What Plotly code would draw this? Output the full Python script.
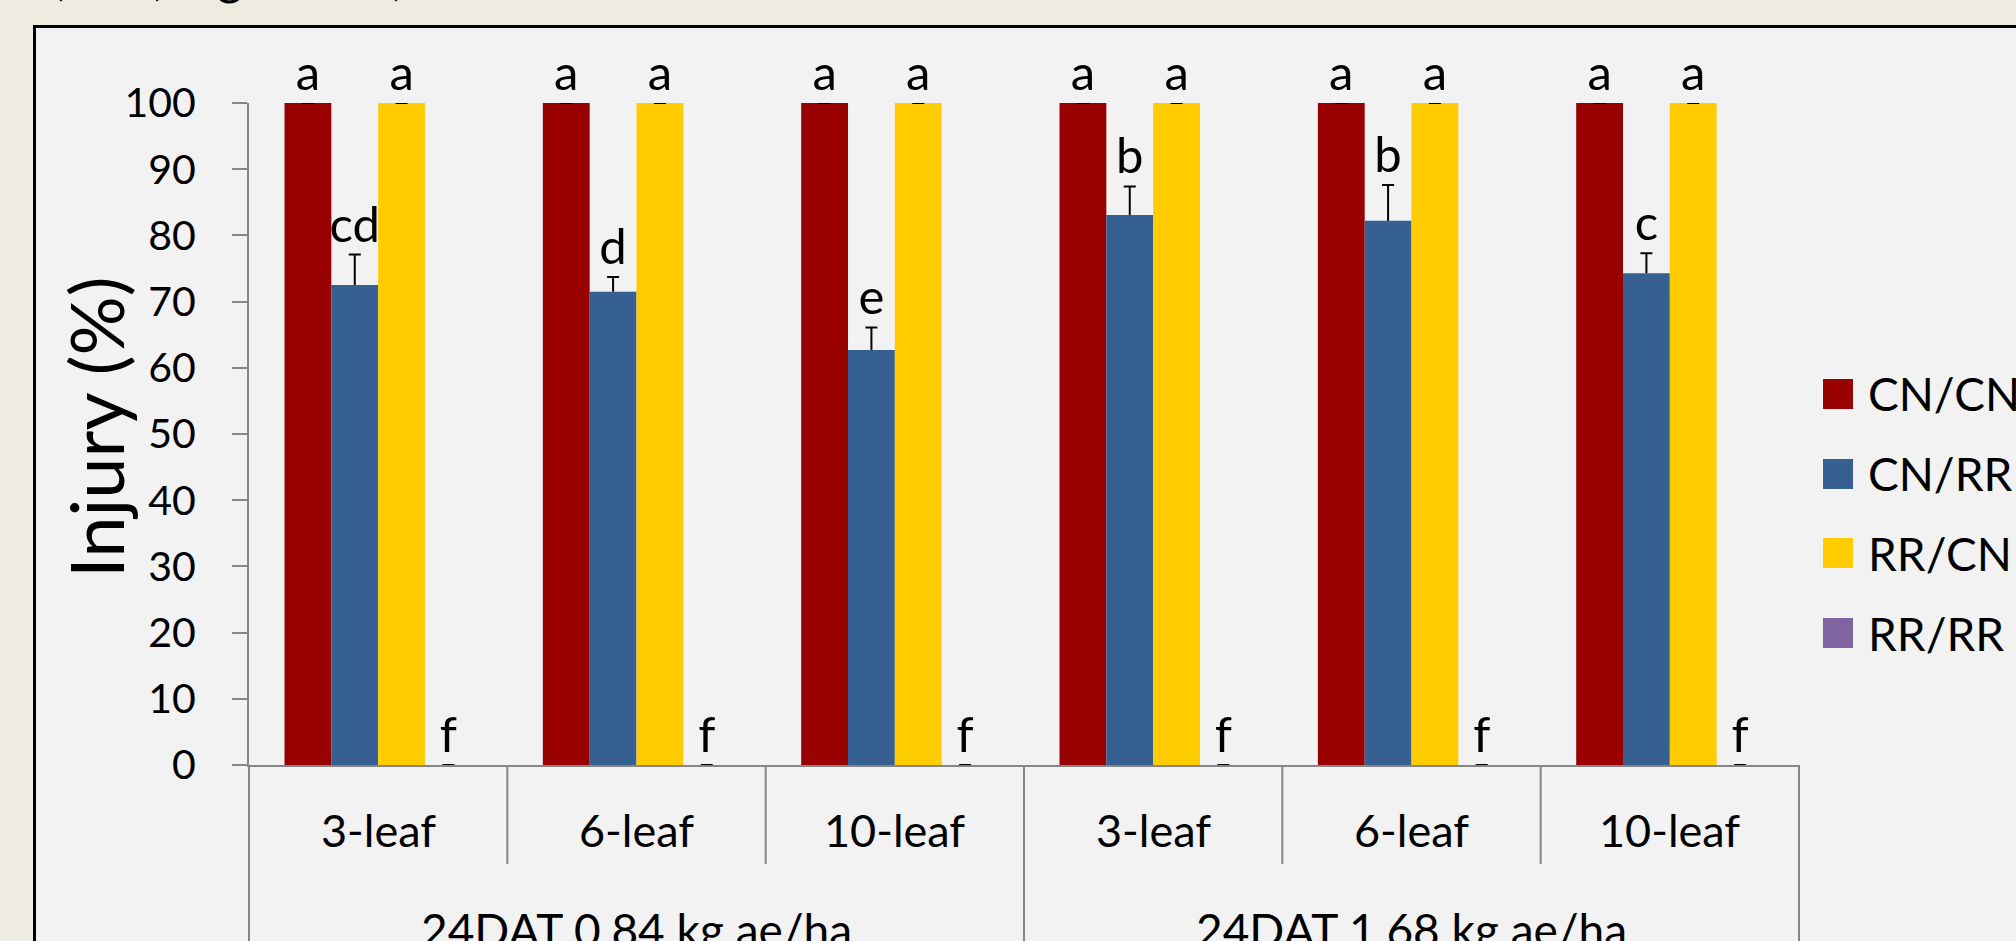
import plotly.graph_objects as go

# ---- data -------------------------------------------------------------
rates = ["24DAT 0.84 kg ae/ha", "24DAT 1.68 kg ae/ha"]
stages = ["3-leaf", "6-leaf", "10-leaf"]
series = ["CN/CN", "CN/RR", "RR/CN", "RR/RR"]
colors = ["#990000", "#366092", "#FFCC00", "#8064A2"]

injury_cn_cn = [100, 100, 100, 100, 100, 100]
injury_cn_rr = [72.5, 71.5, 62.7, 83.1, 82.2, 74.3]
injury_rr_cn = [100, 100, 100, 100, 100, 100]
injury_rr_rr = [0, 0, 0, 0, 0, 0]

se_cn_cn = [0, 0, 0, 0, 0, 0]
se_cn_rr = [4.6, 2.2, 3.4, 4.3, 5.4, 3.0]
se_rr_cn = [0, 0, 0, 0, 0, 0]
se_rr_rr = [0, 0, 0, 0, 0, 0]

letters_cn_cn = ["a", "a", "a", "a", "a", "a"]
letters_cn_rr = ["cd", "d", "e", "b", "b", "c"]
letters_rr_cn = ["a", "a", "a", "a", "a", "a"]
letters_rr_rr = ["f", "f", "f", "f", "f", "f"]

values = [injury_cn_cn, injury_cn_rr, injury_rr_cn, injury_rr_rr]
errors = [se_cn_cn, se_cn_rr, se_rr_cn, se_rr_rr]
letters = [letters_cn_cn, letters_cn_rr, letters_rr_cn, letters_rr_rr]

# two-level category axis: rate / growth stage
x_cat = [[r for r in rates for s in stages], [s for r in rates for s in stages]]

# ---- page geometry (pixels) ------------------------------------------
W, H = 2016, 941
PL, PR, PT, PB = 249, 1799, 103, 765          # plot area edges
FONT = "Lato"
GREY = "#868686"


def fx(px):
    return (px - PL) / (PR - PL)


def fy(py):
    return (PB - py) / (PB - PT)


fig = go.Figure()

for name, color, vals, errs, labs, grp in zip(series, colors, values, errors, letters,
                                             ["g0", "g1", "g2", "g3"]):
    # bars with the upper error stem
    fig.add_trace(go.Bar(
        x=x_cat, y=vals, name=name, offsetgroup=grp,
        marker=dict(color=color, line=dict(width=0)),
        error_y=dict(type="data", symmetric=False, array=errs,
                     arrayminus=[0] * len(errs), width=0, thickness=2, color="black"),
        showlegend=False,
    ))
    # cap of the error bar and the significance letter above it
    tops = [v + e for v, e in zip(vals, errs)]
    fig.add_trace(go.Bar(
        x=x_cat, y=tops, offsetgroup=grp,
        marker=dict(color="rgba(0,0,0,0)", line=dict(width=0)),
        error_y=dict(type="data", array=[0] * len(tops), width=6, thickness=2, color="black"),
        text=labs, textposition="outside", constraintext="none",
        textfont=dict(family=FONT, size=49, color="black"),
        outsidetextfont=dict(family=FONT, size=49, color="black"),
        cliponaxis=False, hoverinfo="skip", showlegend=False,
    ))

shapes = []
# chart frame
shapes.append(dict(type="rect", xref="paper", yref="paper", layer="below",
                   x0=fx(34.5), x1=fx(2200), y0=fy(1300), y1=fy(26.5),
                   line=dict(color="black", width=3), fillcolor="#F2F2F2"))
# category dividers below the axis
n_cat = len(x_cat[1])
for k in range(n_cat + 1):
    bottom = 1100 if k % len(stages) == 0 else 864
    shapes.append(dict(type="line", xref="paper", yref="paper",
                       x0=k / n_cat, x1=k / n_cat, y0=fy(PB), y1=fy(bottom),
                       line=dict(color=GREY, width=2)))

annotations = []
for i, s in enumerate(x_cat[1]):
    annotations.append(dict(xref="paper", yref="paper", x=(i + 0.5) / n_cat, y=fy(830),
                            text=s, showarrow=False, xanchor="center", yanchor="middle",
                            font=dict(family=FONT, size=45, color="black")))
for g, r in enumerate(rates):
    annotations.append(dict(xref="paper", yref="paper",
                            x=(g * len(stages) + len(stages) / 2) / n_cat, y=fy(929),
                            text=r, showarrow=False, xanchor="center", yanchor="middle",
                            font=dict(family=FONT, size=46, color="black")))
# y-axis title
annotations.append(dict(xref="paper", yref="paper", x=fx(95), y=fy(427),
                        text="Injury (%)", textangle=-90, showarrow=False,
                        xanchor="center", yanchor="middle",
                        font=dict(family=FONT, size=74, color="black")))
# panel heading (runs off the top of the page)
annotations.append(dict(xref="paper", yref="paper", x=fx(23), y=fy(7.5),
                        text="B)" + "\u00a0" * 6 + "(Regimen 2)", showarrow=False,
                        xanchor="left", yanchor="bottom",
                        font=dict(family=FONT, size=50, color="black")))

# legend
leg_centres = [394, 474, 553, 633]
for name, color, cy in zip(series, colors, leg_centres):
    shapes.append(dict(type="rect", xref="paper", yref="paper",
                       x0=fx(1823), x1=fx(1853), y0=fy(cy + 15), y1=fy(cy - 15),
                       line=dict(width=0), fillcolor=color))
    annotations.append(dict(xref="paper", yref="paper", x=fx(1866), y=fy(cy),
                            text=name, showarrow=False, xanchor="left", yanchor="middle",
                            font=dict(family=FONT, size=46, color="black")))

fig.update_layout(
    width=W, height=H,
    margin=dict(l=PL, r=W - PR, t=PT, b=H - PB, pad=0),
    paper_bgcolor="#EEECE1", plot_bgcolor="#F2F2F2",
    barmode="group", bargap=0.275, bargroupgap=0,
    showlegend=False,
    font=dict(family=FONT, color="black"),
    shapes=shapes, annotations=annotations,
)
fig.update_xaxes(showticklabels=False, ticks="", showdividers=False,
                 showline=True, linecolor=GREY, linewidth=2, showgrid=False, zeroline=False)
fig.update_yaxes(range=[0, 100], tick0=0, dtick=10, ticks="outside", ticklen=15,
                 tickwidth=2, tickcolor=GREY, showline=True, linecolor=GREY, linewidth=2,
                 showgrid=False, zeroline=False, ticklabelstandoff=28,
                 tickfont=dict(family=FONT, size=41, color="black"))

fig.write_html("out.html")
